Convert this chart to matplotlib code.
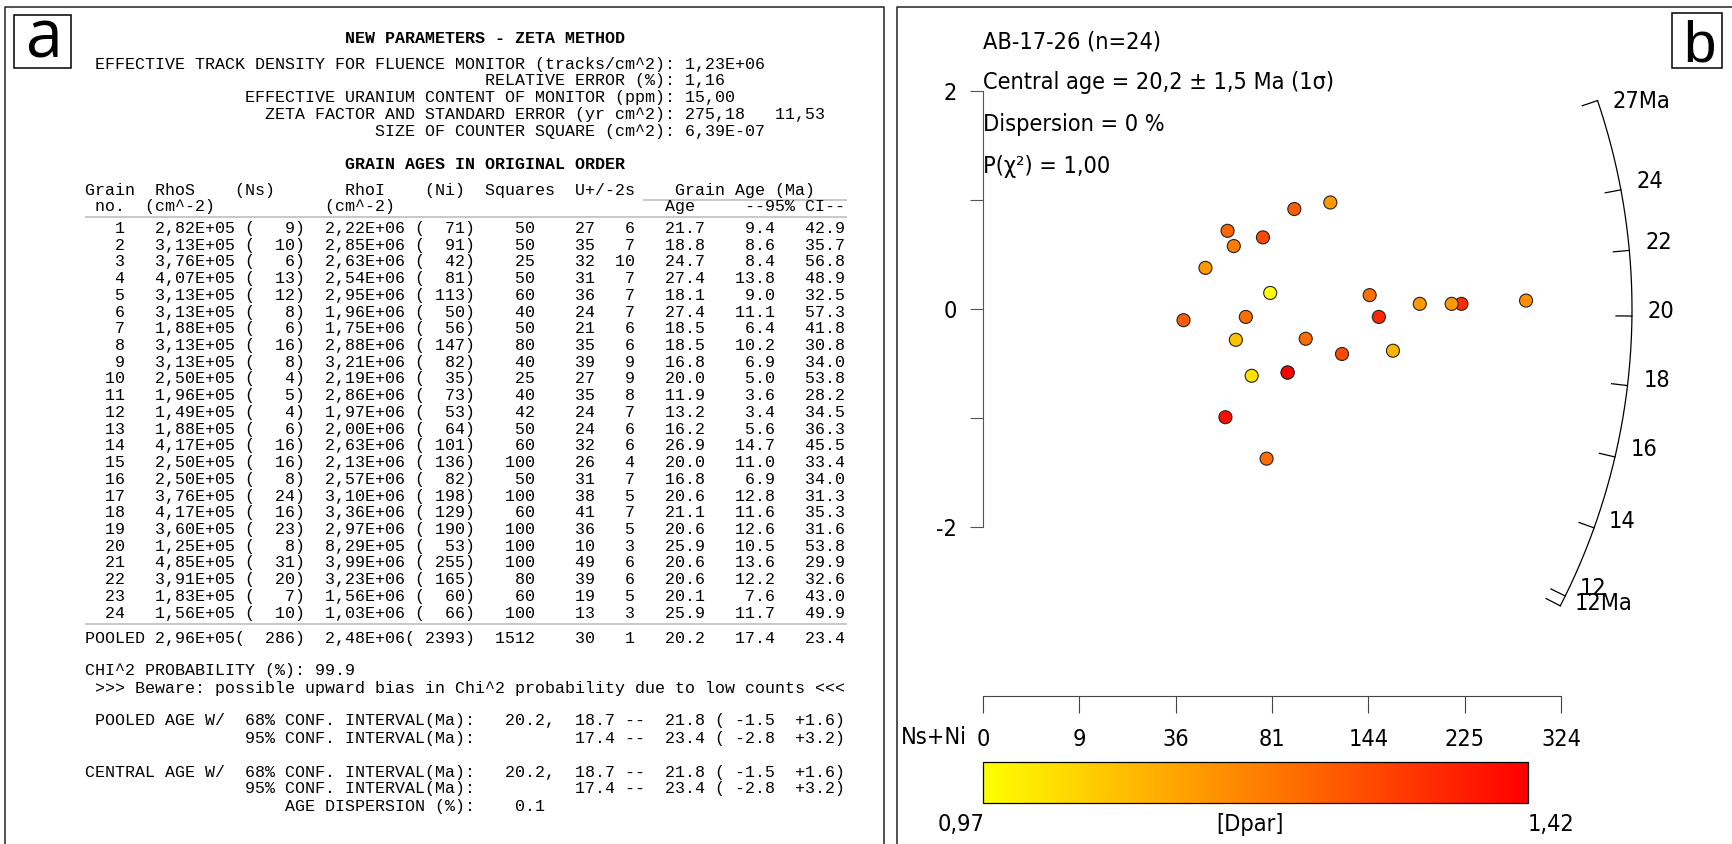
import numpy as np
import matplotlib
matplotlib.use("Agg")
from matplotlib import pyplot as plt
from matplotlib import font_manager
from matplotlib.colors import LinearSegmentedColormap, Normalize
from matplotlib.patches import Rectangle

# ---- panel a: grain table (values as printed) ----
grain = list(range(1, 25))
rhos = [2.82e5, 3.13e5, 3.76e5, 4.07e5, 3.13e5, 3.13e5, 1.88e5, 3.13e5, 3.13e5, 2.50e5, 1.96e5, 1.49e5,
        1.88e5, 4.17e5, 2.50e5, 2.50e5, 3.76e5, 4.17e5, 3.60e5, 1.25e5, 4.85e5, 3.91e5, 1.83e5, 1.56e5]
ns = [9, 10, 6, 13, 12, 8, 6, 16, 8, 4, 5, 4, 6, 16, 16, 8, 24, 16, 23, 8, 31, 20, 7, 10]
rhoi = [2.22e6, 2.85e6, 2.63e6, 2.54e6, 2.95e6, 1.96e6, 1.75e6, 2.88e6, 3.21e6, 2.19e6, 2.86e6, 1.97e6,
        2.00e6, 2.63e6, 2.13e6, 2.57e6, 3.10e6, 3.36e6, 2.97e6, 8.29e5, 3.99e6, 3.23e6, 1.56e6, 1.03e6]
ni = [71, 91, 42, 81, 113, 50, 56, 147, 82, 35, 73, 53, 64, 101, 136, 82, 198, 129, 190, 53, 255, 165, 60, 66]
squares = [50, 50, 25, 50, 60, 40, 50, 80, 40, 25, 40, 42, 50, 60, 100, 50, 100, 60, 100, 100, 100, 80, 60, 100]
u_ppm = [27, 35, 32, 31, 36, 24, 21, 35, 39, 27, 35, 24, 24, 32, 26, 31, 38, 41, 36, 10, 49, 39, 19, 13]
u_2s = [6, 7, 10, 7, 7, 7, 6, 6, 9, 9, 8, 7, 6, 6, 4, 7, 5, 7, 5, 3, 6, 6, 5, 3]
age = [21.7, 18.8, 24.7, 27.4, 18.1, 27.4, 18.5, 18.5, 16.8, 20.0, 11.9, 13.2,
       16.2, 26.9, 20.0, 16.8, 20.6, 21.1, 20.6, 25.9, 20.6, 20.6, 20.1, 25.9]
ci_lo = [9.4, 8.6, 8.4, 13.8, 9.0, 11.1, 6.4, 10.2, 6.9, 5.0, 3.6, 3.4,
         5.6, 14.7, 11.0, 6.9, 12.8, 11.6, 12.6, 10.5, 13.6, 12.2, 7.6, 11.7]
ci_hi = [42.9, 35.7, 56.8, 48.9, 32.5, 57.3, 41.8, 30.8, 34.0, 53.8, 28.2, 34.5,
         36.3, 45.5, 33.4, 34.0, 31.3, 35.3, 31.6, 53.8, 29.9, 32.6, 43.0, 49.9]
pooled = dict(rhos=2.96e5, ns=286, rhoi=2.48e6, ni=2393, sq=1512, u=30, u2s=1, age=20.2, lo=17.4, hi=23.4)

rho_d = 1.23e6
rel_err = 1.16
u_monitor = 15.00
zeta, zeta_se = 275.18, 11.53
square_size = 6.39e-7
chi2_prob = 99.9
ci68 = (20.2, 18.7, 21.8, -1.5, 1.6)
ci95 = (17.4, 23.4, -2.8, 3.2)
age_disp = 0.1

# ---- panel b: radial plot ----
sample = "AB-17-26"
central_age, central_se = 20.2, 1.5
dispersion = 0
p_chi2 = 1.00
z_std = [0.15, -0.27, 0.38, 0.92, -0.41, 0.72, -0.28, -0.38, -0.58, -0.10, -1.37, -0.99,
         -0.61, 0.98, -0.07, -0.58, 0.05, 0.13, 0.05, 0.58, 0.08, 0.05, -0.07, 0.66]
dpar = [0.97, 1.23, 1.15, 1.26, 1.29, 1.24, 1.08, 1.10, 1.30, 1.26, 1.23, 1.40,
        1.02, 1.15, 1.35, 1.42, 1.34, 1.22, 1.15, 1.20, 1.17, 1.15, 1.23, 1.29]
dpar_min, dpar_max = 0.97, 1.42
n_ticks = [0, 9, 36, 81, 144, 225, 324]
arc_ages = [12, 14, 16, 18, 20, 22, 24]
arc_ends = [11.7, 27.4]
arc_end_labels = ["12Ma", "27Ma"]

W, H = 1732, 844
fig = plt.figure(figsize=(W / 100, H / 100), dpi=100)
bg = fig.add_axes([0, 0, 1, 1])
bg.set_xlim(0, W)
bg.set_ylim(H, 0)
bg.axis("off")


def frac(x0, y0, x1, y1):
    return [x0 / W, 1 - y1 / H, (x1 - x0) / W, (y1 - y0) / H]


def ecomma(v):
    return f"{v:.2E}".replace(".", ",")


# panel frames
frame = dict(color="#222222", lw=1.1)
bg.plot([5, 5, 884, 884], [H, 7, 7, H], **frame)
bg.plot([897, 897, W], [H, 7, 7], **frame)
bg.add_patch(Rectangle((14, 15), 57, 53, fill=False, lw=1.1, ec="black"))
bg.text(44, 57, "a", fontsize=48, family="Open Sans", ha="center", va="baseline")
bg.add_patch(Rectangle((1672, 13), 50, 55, fill=False, lw=1.1, ec="black"))
bg.text(1700, 62, "b", fontsize=42, family="Liberation Sans", ha="center", va="baseline")

# ---- panel a text ----
mono = dict(family="Liberation Mono", fontsize=12, va="center", ha="left")
x0 = 85.3
cw = 10.0


def place(items):
    s = [" "] * 80
    for col, w in items:
        s[col:col + len(w)] = list(w)
    return "".join(s).rstrip()


bg.text(x0 + 26 * cw, 38.7, "NEW PARAMETERS - ZETA METHOD", fontweight="bold", **mono)
params = [
    ("EFFECTIVE TRACK DENSITY FOR FLUENCE MONITOR (tracks/cm^2):", ecomma(rho_d)),
    ("RELATIVE ERROR (%):", f"{rel_err:.2f}".replace(".", ",")),
    ("EFFECTIVE URANIUM CONTENT OF MONITOR (ppm):", f"{u_monitor:.2f}".replace(".", ",")),
    ("ZETA FACTOR AND STANDARD ERROR (yr cm^2):",
     f"{zeta:.2f}".replace(".", ",") + "   " + f"{zeta_se:.2f}".replace(".", ",")),
    ("SIZE OF COUNTER SQUARE (cm^2):", ecomma(square_size)),
]
for k, (lab, val) in enumerate(params):
    bg.text(x0, 64.3 + 16.7 * k, f"{lab:>59} {val}", **mono)

bg.text(x0 + 26 * cw, 164.5, "GRAIN AGES IN ORIGINAL ORDER", fontweight="bold", **mono)
h1 = place([(0, "Grain"), (7, "RhoS"), (15, "(Ns)"), (26, "RhoI"), (34, "(Ni)"),
            (40, "Squares"), (49, "U+/-2s"), (59, "Grain Age (Ma)")])
h2 = place([(1, "no."), (6, "(cm^-2)"), (24, "(cm^-2)"), (58, "Age"), (66, "--95% CI--")])
bg.text(x0, 190, h1, **mono)
bg.text(x0, 206, h2, **mono)
rule = dict(color="#c8c8c8", lw=1.4)
bg.plot([644, 846], [199.5, 199.5], **rule)
bg.plot([86, 846], [216.5, 216.5], **rule)

for k in range(len(grain)):
    row = (f"{grain[k]:4d}   {ecomma(rhos[k])} ({ns[k]:4d})  {ecomma(rhoi[k])} ({ni[k]:4d})"
           f"{squares[k]:6d}{u_ppm[k]:6d}{u_2s[k]:4d}{age[k]:7.1f}{ci_lo[k]:7.1f}{ci_hi[k]:7.1f}")
    bg.text(x0, 228.5 + 16.72 * k, row, **mono)
bg.plot([86, 846], [623.5, 623.5], **rule)
p = pooled
prow = (f"POOLED {ecomma(p['rhos'])}({p['ns']:5d})  {ecomma(p['rhoi'])}({p['ni']:5d})"
        f"{p['sq']:6d}{p['u']:6d}{p['u2s']:4d}{p['age']:7.1f}{p['lo']:7.1f}{p['hi']:7.1f}")
bg.text(x0, 638, prow, **mono)

bg.text(x0, 671, f"CHI^2 PROBABILITY (%): {chi2_prob}", **mono)
bg.text(x0, 688, " >>> Beware: possible upward bias in Chi^2 probability due to low counts <<<", **mono)


def conf_lines(prefix):
    a, lo, hi, dlo, dhi = ci68
    l1 = (prefix.ljust(16) + "68% CONF. INTERVAL(Ma):" + f"{a:7.1f}," + f"{lo:6.1f} --{hi:6.1f} ("
          + f"{dlo:5.1f}{dhi:+6.1f})")
    lo2, hi2, dlo2, dhi2 = ci95
    l2 = (" " * 16 + "95% CONF. INTERVAL(Ma):" + " " * 8 + f"{lo2:6.1f} --{hi2:6.1f} ("
          + f"{dlo2:5.1f}{dhi2:+6.1f})")
    return l1, l2


for y, pre in [(721, " POOLED AGE W/"), (772, "CENTRAL AGE W/")]:
    l1, l2 = conf_lines(pre)
    bg.text(x0, y, l1, **mono)
    bg.text(x0, y + 17, l2, **mono)
bg.text(x0, 806, " " * 20 + "AGE DISPERSION (%):" + f"{age_disp:7.1f}", **mono)

# ---- panel b ----
# narrow sans face: condensed DejaVu if present, else Liberation Sans
cond = font_manager.findfont(font_manager.FontProperties(family="DejaVu Sans", stretch="condensed"))
if "ondensed" in cond:
    sans = dict(family=["DejaVu Sans"], fontstretch="condensed", fontsize=16.8)
else:
    sans = dict(family=["Liberation Sans", "DejaVu Sans"], fontsize=17)
fs = sans["fontsize"]

info = [f"{sample} (n={len(grain)})",
        f"Central age = {central_age:.1f} ± {central_se:.1f} Ma (1σ)".replace(".", ","),
        f"Dispersion = {dispersion} %",
        f"P(χ²) = {p_chi2:.2f}".replace(".", ",")]
for y, s in zip([42, 82, 124, 166], info):
    bg.text(983, y, s, ha="left", va="center", **sans)

cmap = LinearSegmentedColormap.from_list("yr", ["yellow", "red"])
norm = Normalize(dpar_min, dpar_max)


def fwd(x):
    x = np.asarray(x, float)
    return np.sign(x) * np.sqrt(np.abs(x))


def inv(y):
    y = np.asarray(y, float)
    return np.sign(y) * y ** 2


ox, oy = 983.0, 309.3      # pixel position of the origin
px_u, px_v = 32.11, 109.0  # pixels per sqrt(Ns+Ni) and per standard unit
u_lim, v_lim = (-1, 23), (-3, 2.6)
box = frac(ox + u_lim[0] * px_u, oy - v_lim[1] * px_v, ox + u_lim[1] * px_u, oy - v_lim[0] * px_v)
ax = fig.add_axes(box)
ax.set_xscale("function", functions=(fwd, inv))
ax.set_xlim(float(inv(u_lim[0])), float(inv(u_lim[1])))
ax.set_ylim(*v_lim)
ax.patch.set_visible(False)
for side in ["top", "right", "bottom"]:
    ax.spines[side].set_visible(False)
ax.spines["left"].set_position(("data", 0))
ax.spines["left"].set_bounds(-2, 2)
ax.spines["left"].set_color("#555555")
ax.set_xticks([])
ax.set_yticks([-2, -1, 0, 1, 2], ["-2", "", "0", "", "2"])
ax.tick_params(axis="y", length=9.5, width=0.8, color="#555555", pad=9)
for t in ax.get_yticklabels():
    t.set_fontproperties(font_manager.FontProperties(
        family=sans["family"], stretch=sans.get("fontstretch", "normal"), size=fs))

tot = np.array(ns) + np.array(ni)
sc = ax.scatter(tot, z_std, c=dpar, cmap=cmap, norm=norm, s=88, edgecolors="#222222",
                linewidths=0.8, zorder=3)

# age arc (arcsine transform used by the radial plot)
lam = 1.55125e-10


def z_of_age(t):
    r = np.expm1(lam * np.asarray(t) * 1e6) / (lam * zeta * rho_d * 0.5)
    return np.arcsin(np.sqrt(r / (1 + r)))


z0 = z_of_age(central_age)
R = 649.0


def arc_pt(t, rad):
    s = 2 * (z_of_age(t) - z0)
    phi = np.arctan(s * px_v / px_u)
    return inv(rad * np.cos(phi) / px_u), rad * np.sin(phi) / px_v


tt = np.linspace(arc_ends[0], arc_ends[1], 300)
ax.plot(*arc_pt(tt, R), color="black", lw=0.9, clip_on=False)
arc_dy = [-15, -12, -11, -7, -5, -6, -5]   # label nudges, pixels
end_dy = [-10, 6]
for t, lab, dy in list(zip(arc_ages, [str(a) for a in arc_ages], arc_dy)) + \
        list(zip(arc_ends, arc_end_labels, end_dy)):
    xa, ya = arc_pt(t, R)
    xb, yb = arc_pt(t, R - 16)
    ax.plot([xa, xb], [ya, yb], color="black", lw=0.9, clip_on=False)
    xl, yl = arc_pt(t, R + 16)
    ax.text(xl, yl - dy / px_v, lab, ha="left", va="center", **sans)

# Ns+Ni scale
sax = fig.add_axes(frac(box[0] * W, 680, (box[0] + box[2]) * W, 696))
sax.set_xscale("function", functions=(fwd, inv))
sax.set_xlim(ax.get_xlim())
sax.patch.set_visible(False)
for side in ["top", "right", "left"]:
    sax.spines[side].set_visible(False)
sax.spines["bottom"].set_bounds(n_ticks[0], n_ticks[-1])
sax.spines["bottom"].set_color("#444444")
sax.set_yticks([])
sax.set_xticks(n_ticks, [str(v) for v in n_ticks])
sax.tick_params(axis="x", direction="out", length=12, width=0.8, color="#444444", pad=11)
for t in sax.get_xticklabels():
    t.set_fontproperties(font_manager.FontProperties(
        family=sans["family"], stretch=sans.get("fontstretch", "normal"), size=fs))
bg.text(967, 738, "Ns+Ni", ha="right", va="center", **sans)

# Dpar colour bar
cax = fig.add_axes(frac(983, 762, 1528, 803))
cb = fig.colorbar(sc, cax=cax, orientation="horizontal")
cb.set_ticks([])
cb.outline.set_linewidth(0.9)
bg.text(961, 824, f"{dpar_min:.2f}".replace(".", ","), ha="center", va="center", **sans)
bg.text(1250, 824, "[Dpar]", ha="center", va="center", **sans)
bg.text(1551, 824, f"{dpar_max:.2f}".replace(".", ","), ha="center", va="center", **sans)

fig.savefig("out.png", dpi=100)
